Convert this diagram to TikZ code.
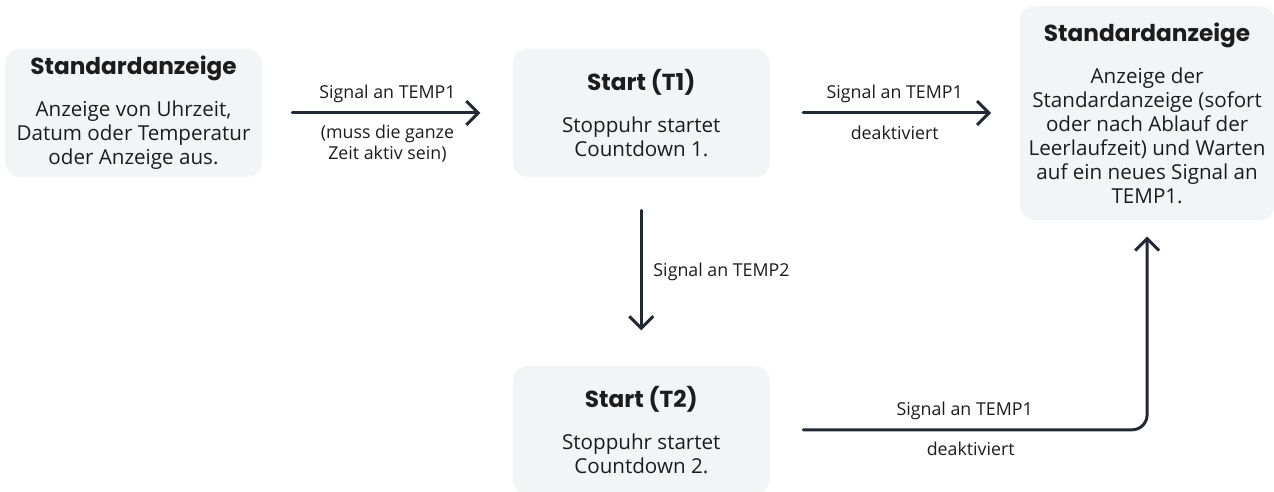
\documentclass[tikz,border=0pt]{standalone}
\usepackage{fontspec}
\setmainfont{Open Sans}
\newfontfamily\headfont{Poppins}
\usetikzlibrary{arrows.meta,positioning}
\definecolor{boxgray}{HTML}{F3F4F6}
\definecolor{inkline}{HTML}{212936}
\definecolor{inktext}{HTML}{1C1C1C}
\newcommand{\boxtitle}[1]{{\headfont\bfseries\fontsize{11.6}{14}\selectfont #1}\\[9pt]}
\tikzset{
  statebox/.style={fill=boxgray, rectangle, rounded corners=7.5pt, minimum width=128.5pt, minimum height=64pt, align=center, text=inktext, font=\fontsize{10.3}{12}\selectfont},
  flow/.style={draw=inkline, line width=1.5pt, line cap=round, -{Straight Barb[length=6pt,width=12pt,line width=1.5pt]}},
  flowlabel/.style={font=\fontsize{8.9}{10.3}\selectfont, text=inktext, align=center}
}

\begin{document}
\begin{tikzpicture}
  \useasboundingbox (0,0) rectangle (637pt,-246pt);
  \node [statebox] (idle) at (66.75pt,-56.5pt) {\boxtitle{Standardanzeige}Anzeige von Uhrzeit,\\Datum oder Temperatur\\oder Anzeige aus.};
  \node [statebox, right=125pt of idle] (startone) {\boxtitle{Start (T1)}Stoppuhr startet\\Countdown 1.};
  \node [statebox, right=124.5pt of startone, minimum width=127.5pt, minimum height=107pt] (standard) {\boxtitle{Standardanzeige}Anzeige der\\Standardanzeige (sofort\\oder nach Ablauf der\\Leerlaufzeit) und Warten\\auf ein neues Signal an\\TEMP1.};
  \node [statebox, below=94pt of startone] (starttwo) {\boxtitle{Start (T2)}Stoppuhr startet\\Countdown 2.};

  \draw [flow, shorten <=15pt, shorten >=16pt] (idle) -- node [flowlabel, above=1pt] {Signal an TEMP1} node [flowlabel, below=2pt] {(muss die ganze\\Zeit aktiv sein)} (startone);
  \draw [flow, shorten <=16.5pt, shorten >=14pt] (startone) -- node [flowlabel, above=1pt] {Signal an TEMP1} node [flowlabel, below=2.5pt] {deaktiviert} (standard);
  \draw [flow, shorten <=16.5pt, shorten >=17.5pt] (startone) -- node [flowlabel, right=2pt] {Signal an TEMP2} (starttwo);
  \draw [flow, rounded corners=7.5pt, shorten <=16.5pt, shorten >=8pt] (starttwo) -| node [flowlabel, pos=0.258, above=1pt] {Signal an TEMP1} node [flowlabel, pos=0.266, below=2pt] {deaktiviert} (standard);
\end{tikzpicture}
\end{document}
